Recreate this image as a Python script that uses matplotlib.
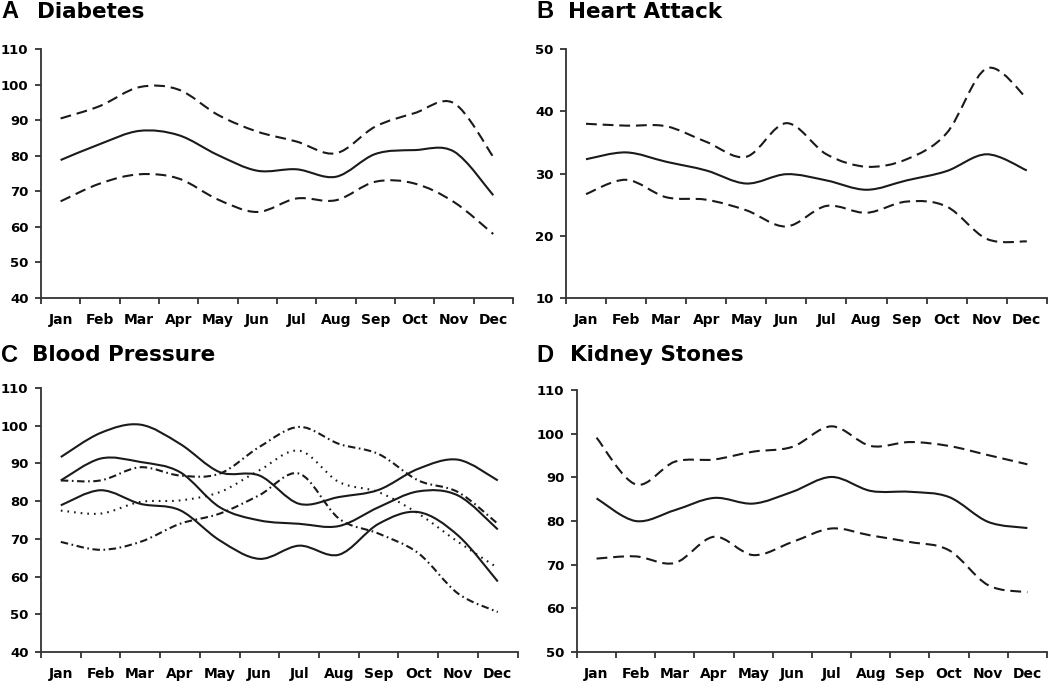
import numpy as np
import matplotlib
matplotlib.use("Agg")
from matplotlib import pyplot as plt
from matplotlib.path import Path
from matplotlib.patches import PathPatch

months = ["Jan", "Feb", "Mar", "Apr", "May", "Jun",
          "Jul", "Aug", "Sep", "Oct", "Nov", "Dec"]

# A - Diabetes
diab_upper = [90.5, 94.0, 99.3, 98.6, 91.5, 86.8, 84.0, 80.7, 88.2, 92.0, 94.8, 79.7]
diab_mean = [78.8, 83.3, 87.0, 85.8, 80.2, 75.8, 76.2, 74.1, 80.5, 81.6, 81.2, 68.9]
diab_lower = [67.2, 72.2, 74.8, 73.6, 67.7, 64.2, 68.0, 67.5, 72.7, 72.2, 67.0, 58.0]

# B - Heart Attack
heart_upper = [38.0, 37.7, 37.6, 35.1, 32.7, 38.1, 33.1, 31.1, 32.3, 36.5, 46.9, 42.1]
heart_mean = [32.3, 33.4, 31.9, 30.5, 28.4, 29.9, 28.9, 27.4, 28.9, 30.4, 33.1, 30.5]
heart_lower = [26.7, 29.0, 26.2, 25.8, 24.1, 21.5, 24.8, 23.7, 25.5, 24.7, 19.5, 19.1]

# C - Blood Pressure
bp_solid1 = [91.7, 98.1, 100.3, 95.2, 87.7, 86.8, 79.3, 81.1, 83.0, 88.6, 91.0, 85.5]
bp_solid2 = [85.5, 91.3, 90.4, 87.7, 78.4, 74.9, 74.0, 73.4, 78.4, 82.6, 81.5, 72.5]
bp_solid3 = [78.9, 82.9, 79.3, 77.6, 69.6, 64.7, 68.2, 65.8, 74.0, 77.1, 70.9, 58.7]
bp_dashdot_hi = [85.5, 85.5, 89.0, 86.8, 87.3, 94.4, 99.7, 95.2, 92.5, 85.5, 82.4, 74.0]
bp_dotted = [77.5, 76.7, 79.8, 80.2, 82.4, 88.2, 93.4, 85.1, 82.4, 76.7, 69.2, 62.3]
bp_dashdot_lo = [69.2, 67.1, 69.2, 74.0, 76.7, 81.6, 87.3, 75.4, 71.4, 66.2, 55.5, 50.6]

# D - Kidney Stones
kid_upper = [99.1, 88.4, 93.6, 94.1, 95.9, 97.0, 101.7, 97.2, 98.1, 97.2, 95.1, 93.0]
kid_mean = [85.2, 80.0, 82.5, 85.3, 84.0, 86.7, 90.1, 86.9, 86.7, 85.5, 79.8, 78.4]
kid_lower = [71.4, 71.9, 70.4, 76.4, 72.2, 75.2, 78.3, 76.7, 75.2, 73.3, 65.3, 63.7]

SOLID = "-"
DASHED = (0, (5.2, 2.8))
DASHDOT = (0, (3.6, 1.7, 0.8, 1.7))
DOTTED = (0, (0.8, 2.4))


def smooth_line(ax, values, ls, lw=1.5, color="#1a1a1a", tension=1 / 6):
    # Excel style smoothed line: cubic bezier segments through every point
    x = np.arange(len(values), dtype=float)
    y = np.asarray(values, dtype=float)
    pts = np.column_stack([x, y])
    ext = np.vstack([pts[0], pts, pts[-1]])
    verts = [pts[0]]
    codes = [Path.MOVETO]
    for i in range(len(pts) - 1):
        p_prev, p0, p1, p_next = ext[i], ext[i + 1], ext[i + 2], ext[i + 3]
        c1 = p0 + (p1 - p_prev) * tension
        c2 = p1 - (p_next - p0) * tension
        verts += [c1, c2, p1]
        codes += [Path.CURVE4] * 3
    patch = PathPatch(Path(verts, codes), fill=False, edgecolor=color,
                      linewidth=lw, linestyle=ls, capstyle="butt")
    ax.add_patch(patch)


def style_axes(ax, ylim, yticks):
    ax.set_xlim(-0.5, len(months) - 0.5)
    ax.set_ylim(*ylim)
    ax.set_yticks(yticks)
    ax.set_xticks(range(len(months)))
    ax.set_xticklabels(months)
    ax.set_xticks(np.arange(-0.5, len(months)), minor=True)
    for s in ["top", "right"]:
        ax.spines[s].set_visible(False)
    for s in ["left", "bottom"]:
        ax.spines[s].set_linewidth(1.3)
        ax.spines[s].set_color("#333333")
    ax.tick_params(axis="x", which="major", length=0, pad=11)
    ax.tick_params(axis="x", which="minor", length=4, width=1.3, color="#333333")
    ax.tick_params(axis="y", length=4, width=1.3, color="#333333", pad=5)
    for lab in ax.get_xticklabels():
        lab.set_fontweight("bold")
        lab.set_fontsize(10)
        lab.set_family("DejaVu Sans")
    for lab in ax.get_yticklabels():
        lab.set_fontweight("bold")
        lab.set_fontsize(9.5)
        lab.set_family("DejaVu Sans")


def panel_title(fig, x_letter, x_text, y, letter, text):
    fig.text(x_letter, y, letter, fontsize=17, fontweight="bold",
             family="Liberation Sans", va="center", ha="left")
    fig.text(x_text, y, text, fontsize=15.5, fontweight="bold",
             family="DejaVu Sans", va="center", ha="left")


fig = plt.figure(figsize=(10.5, 6.82), dpi=100)

axA = fig.add_axes([0.039, 0.563, 0.4495, 0.365])
axB = fig.add_axes([0.539, 0.563, 0.458, 0.365])
axC = fig.add_axes([0.039, 0.044, 0.454, 0.387])
axD = fig.add_axes([0.5495, 0.044, 0.4476, 0.384])

for vals, ls in [(diab_upper, DASHED), (diab_mean, SOLID), (diab_lower, DASHED)]:
    smooth_line(axA, vals, ls)
style_axes(axA, (40, 110), range(40, 111, 10))

for vals, ls in [(heart_upper, DASHED), (heart_mean, SOLID), (heart_lower, DASHED)]:
    smooth_line(axB, vals, ls)
style_axes(axB, (10, 50), range(10, 51, 10))

for vals, ls in [(bp_solid1, SOLID), (bp_solid2, SOLID), (bp_solid3, SOLID),
                 (bp_dashdot_hi, DASHDOT), (bp_dotted, DOTTED),
                 (bp_dashdot_lo, DASHDOT)]:
    smooth_line(axC, vals, ls)
style_axes(axC, (40, 110), range(40, 111, 10))

for vals, ls in [(kid_upper, DASHED), (kid_mean, SOLID), (kid_lower, DASHED)]:
    smooth_line(axD, vals, ls)
style_axes(axD, (50, 110), range(50, 111, 10))

panel_title(fig, 0.001, 0.035, 0.983, "A", "Diabetes")
panel_title(fig, 0.511, 0.541, 0.983, "B", "Heart Attack")
panel_title(fig, 0.001, 0.030, 0.479, "C", "Blood Pressure")
panel_title(fig, 0.511, 0.543, 0.479, "D", "Kidney Stones")

fig.savefig("out.png", dpi=100)
